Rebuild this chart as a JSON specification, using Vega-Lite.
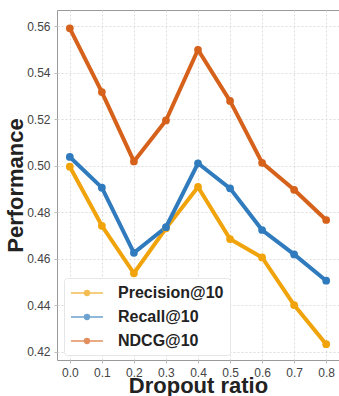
{
  "$schema": "https://vega.github.io/schema/vega-lite/v6.json",
  "width": 282,
  "height": 350,
  "autosize": {"type": "none"},
  "padding": {"left": 57, "top": 10, "right": 0, "bottom": 36},
  "background": "white",
  "config": {
    "view": {"stroke": "#999999", "strokeWidth": 1},
    "font": "Liberation Sans"
  },
  "data": {
    "values": [
      {"ratio": 0.0, "metric": "Precision@10", "value": 0.4995},
      {"ratio": 0.1, "metric": "Precision@10", "value": 0.4741},
      {"ratio": 0.2, "metric": "Precision@10", "value": 0.4537},
      {"ratio": 0.3, "metric": "Precision@10", "value": 0.4730},
      {"ratio": 0.4, "metric": "Precision@10", "value": 0.4908},
      {"ratio": 0.5, "metric": "Precision@10", "value": 0.4684},
      {"ratio": 0.6, "metric": "Precision@10", "value": 0.4605},
      {"ratio": 0.7, "metric": "Precision@10", "value": 0.4400},
      {"ratio": 0.8, "metric": "Precision@10", "value": 0.4232},
      {"ratio": 0.0, "metric": "Recall@10", "value": 0.5037},
      {"ratio": 0.1, "metric": "Recall@10", "value": 0.4905},
      {"ratio": 0.2, "metric": "Recall@10", "value": 0.4625},
      {"ratio": 0.3, "metric": "Recall@10", "value": 0.4735},
      {"ratio": 0.4, "metric": "Recall@10", "value": 0.5010},
      {"ratio": 0.5, "metric": "Recall@10", "value": 0.4902},
      {"ratio": 0.6, "metric": "Recall@10", "value": 0.4723},
      {"ratio": 0.7, "metric": "Recall@10", "value": 0.4618},
      {"ratio": 0.8, "metric": "Recall@10", "value": 0.4505},
      {"ratio": 0.0, "metric": "NDCG@10", "value": 0.5590},
      {"ratio": 0.1, "metric": "NDCG@10", "value": 0.5316},
      {"ratio": 0.2, "metric": "NDCG@10", "value": 0.5018},
      {"ratio": 0.3, "metric": "NDCG@10", "value": 0.5194},
      {"ratio": 0.4, "metric": "NDCG@10", "value": 0.5498},
      {"ratio": 0.5, "metric": "NDCG@10", "value": 0.5278},
      {"ratio": 0.6, "metric": "NDCG@10", "value": 0.5012},
      {"ratio": 0.7, "metric": "NDCG@10", "value": 0.4896},
      {"ratio": 0.8, "metric": "NDCG@10", "value": 0.4766}
    ]
  },
  "mark": {"type": "line", "strokeWidth": 4, "point": {"size": 60, "filled": true, "opacity": 1}},
  "encoding": {
    "x": {
      "field": "ratio",
      "type": "quantitative",
      "scale": {"domain": [-0.04, 0.84], "nice": false, "zero": false},
      "axis": {
        "title": "Dropout ratio",
        "values": [0, 0.1, 0.2, 0.3, 0.4, 0.5, 0.6, 0.7, 0.8],
        "format": ".1f",
        "domain": false,
        "ticks": true,
        "tickSize": 3,
        "tickColor": "#bbbbbb",
        "labelFontSize": 12,
        "labelColor": "#444444",
        "labelPadding": 4,
        "grid": true,
        "gridColor": "#dddddd",
        "gridDash": [2, 2],
        "titleFont": "Liberation Sans",
        "titleFontSize": 22,
        "titleFontWeight": "bold",
        "titleColor": "#222222",
        "titlePadding": -3
      }
    },
    "y": {
      "field": "value",
      "type": "quantitative",
      "scale": {"domain": [0.4164, 0.5669], "nice": false, "zero": false},
      "axis": {
        "title": "Performance",
        "values": [0.42, 0.44, 0.46, 0.48, 0.5, 0.52, 0.54, 0.56],
        "format": ".2f",
        "domain": false,
        "ticks": true,
        "tickSize": 3,
        "tickColor": "#bbbbbb",
        "labelFontSize": 12,
        "labelColor": "#444444",
        "labelPadding": 4,
        "grid": true,
        "gridColor": "#dddddd",
        "gridDash": [2, 2],
        "titleFont": "Liberation Sans",
        "titleFontSize": 22,
        "titleFontWeight": "bold",
        "titleColor": "#222222",
        "titlePadding": -1
      }
    },
    "color": {
      "field": "metric",
      "type": "nominal",
      "sort": ["Precision@10", "Recall@10", "NDCG@10"],
      "scale": {
        "domain": ["Precision@10", "Recall@10", "NDCG@10"],
        "range": ["#f0a30a", "#2f7bbd", "#d6611b"]
      },
      "legend": {
        "title": null,
        "orient": "none",
        "legendX": 7,
        "legendY": 268,
        "fillColor": "white",
        "strokeColor": "#e6e6e6",
        "cornerRadius": 3,
        "padding": 6,
        "symbolType": "M-2,0H2M0.3,0A0.3,0.3 0 1,1 -0.3,0A0.3,0.3 0 1,1 0.3,0",
        "symbolSize": 256,
        "symbolStrokeWidth": 1.5,
        "symbolOpacity": 0.7,
        "symbolOffset": 8,
        "labelFont": "Liberation Sans",
        "labelFontSize": 16,
        "labelFontWeight": "bold",
        "labelColor": "#222222",
        "labelOffset": 22,
        "rowPadding": 7
      }
    }
  }
}
